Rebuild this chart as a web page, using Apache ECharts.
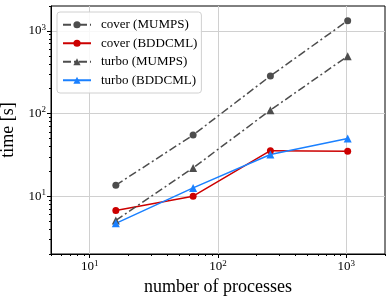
<!DOCTYPE html>
<html><head><meta charset="utf-8">
<script src="https://cdn.jsdelivr.net/npm/echarts@6/dist/echarts.min.js"></script>
<style>html,body{margin:0;padding:0;background:#fff}#c{width:391px;height:300px}</style>
</head><body><div id="c"></div>
<script>
const processes = [16, 64, 256, 1024];
const coverMUMPS = [13.6, 55, 285, 1330];
const coverBDDCML = [6.7, 10, 35.6, 35];
const turboMUMPS = [5.1, 22, 110, 495];
const turboBDDCML = [4.7, 12.6, 32, 50];
const majorTicks = [10, 100, 1000];
const xMinorTicks = [5,6,7,8,9,20,30,40,50,60,70,80,90,200,300,400,500,600,700,800,900,2000];
const yMinorTicks = [2,3,4,5,6,7,8,9,20,30,40,50,60,70,80,90,200,300,400,500,600,700,800,900,2000];

const FONT = '"Liberation Serif","DejaVu Serif",serif';
const gray = '#4d4d4d', red = '#cc0000', blue = '#1a80ff';
const dashdot = [8, 3, 2, 3];

function pair(vals) { return processes.map((p, i) => [p, vals[i]]); }
function fmt(v) { const k = Math.round(Math.log10(v)); return '10{s|' + k + '}'; }
const labelRich = { s: { fontSize: 9, fontFamily: FONT, color: '#000', padding: [0, 0, 7, 0] } };

const chart = echarts.init(document.getElementById('c'));
chart.setOption({
  animation: false,
  grid: { left: 51, right: 6, top: 6, bottom: 46, outerBoundsMode: 'none', containLabel: false,
    show: true, borderColor: '#000', borderWidth: 1, backgroundColor: 'transparent' },
  legend: {
    orient: 'vertical', left: 57, top: 12, itemWidth: 28, itemHeight: 9, itemGap: 5,
    padding: [6, 4, 6, 5], backgroundColor: 'rgba(255,255,255,0.85)', borderColor: '#d0d0d0', borderWidth: 1, borderRadius: 3,
    textStyle: { fontFamily: FONT, fontSize: 13, lineHeight: 13.5, color: '#000', padding: [0, 0, 0, 5] },
    data: [
      { name: 'cover (MUMPS)', lineStyle: { type: dashdot } },
      { name: 'cover (BDDCML)' },
      { name: 'turbo (MUMPS)', lineStyle: { type: dashdot } },
      { name: 'turbo (BDDCML)' }
    ]
  },
  xAxis: [{
    type: 'log', logBase: 10, min: 5, max: 2000, position: 'bottom',
    name: 'number of processes', nameLocation: 'middle', nameGap: 18,
    nameTextStyle: { fontFamily: FONT, fontSize: 18, color: '#000' },
    axisLine: { show: true, lineStyle: { color: '#000', width: 1 } },
    axisTick: { show: true, customValues: majorTicks, length: 4, lineStyle: { color: '#000' } },
    axisLabel: { customValues: majorTicks, formatter: fmt, rich: labelRich, fontFamily: FONT, fontSize: 13, color: '#000', margin: 5 },
    splitLine: { show: true, lineStyle: { color: '#d0d0d0', width: 1 } }
  }, {
    type: 'log', logBase: 10, min: 5, max: 2000, position: 'bottom',
    axisLine: { show: false }, axisLabel: { show: false }, splitLine: { show: false },
    axisTick: { show: true, customValues: xMinorTicks, length: 2, lineStyle: { color: '#000' } }
  }],
  yAxis: [{
    type: 'log', logBase: 10, min: 2, max: 2000, position: 'left',
    name: 'time [s]', nameLocation: 'middle', nameGap: 27, nameRotate: 90,
    nameTextStyle: { fontFamily: FONT, fontSize: 18, color: '#000' },
    axisLine: { show: true, lineStyle: { color: '#000', width: 1 } },
    axisTick: { show: true, customValues: majorTicks, length: 4, lineStyle: { color: '#000' } },
    axisLabel: { customValues: majorTicks, formatter: fmt, rich: labelRich, fontFamily: FONT, fontSize: 13, color: '#000', margin: 5 },
    splitLine: { show: true, lineStyle: { color: '#d0d0d0', width: 1 } }
  }, {
    type: 'log', logBase: 10, min: 2, max: 2000, position: 'left',
    axisLine: { show: false }, axisLabel: { show: false }, splitLine: { show: false },
    axisTick: { show: true, customValues: yMinorTicks, length: 2, lineStyle: { color: '#000' } }
  }],
  series: [
    { name: 'cover (MUMPS)', type: 'line', data: pair(coverMUMPS), symbol: 'circle', symbolSize: 7,
      itemStyle: { color: gray }, lineStyle: { color: gray, width: 1.5, type: dashdot } },
    { name: 'cover (BDDCML)', type: 'line', data: pair(coverBDDCML), symbol: 'circle', symbolSize: 7,
      itemStyle: { color: red }, lineStyle: { color: red, width: 1.5 } },
    { name: 'turbo (MUMPS)', type: 'line', data: pair(turboMUMPS), symbol: 'triangle', symbolSize: 8,
      itemStyle: { color: gray }, lineStyle: { color: gray, width: 1.5, type: dashdot } },
    { name: 'turbo (BDDCML)', type: 'line', data: pair(turboBDDCML), symbol: 'triangle', symbolSize: 8,
      itemStyle: { color: blue }, lineStyle: { color: blue, width: 1.5 } }
  ]
});
</script></body></html>
